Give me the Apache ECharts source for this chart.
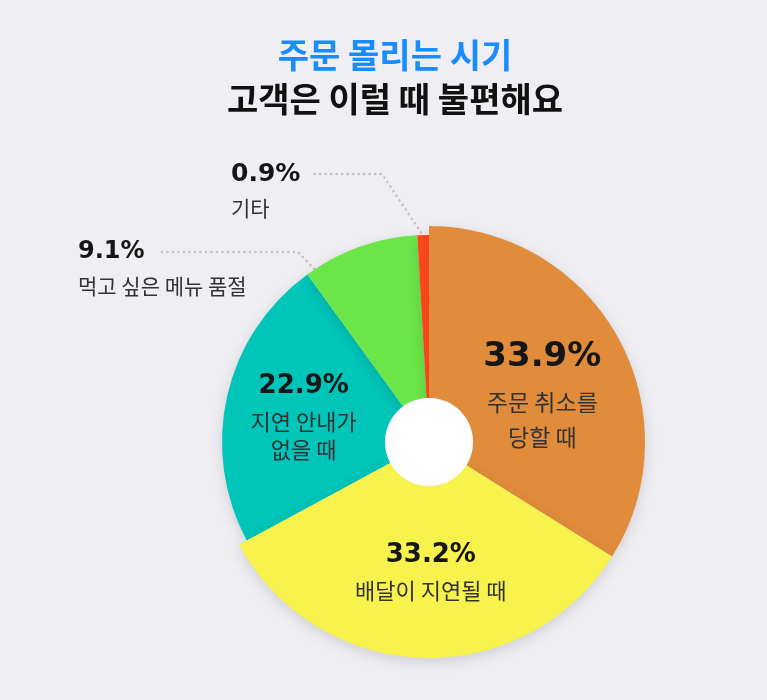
<!DOCTYPE html>
<html><head><meta charset="utf-8">
<script src="https://cdn.jsdelivr.net/npm/echarts@6/dist/echarts.min.js"></script>
<style>html,body{margin:0;padding:0;background:#EEEEF3;}#c{width:767px;height:700px;}</style>
</head><body><div id="c"></div>
<script>
const categories = ['주문 취소를\n당할 때', '배달이 지연될 때', '지연 안내가\n없을 때', '먹고 싶은 메뉴 품절', '기타'];
const values = [33.9, 33.2, 22.9, 9.1, 0.9];
const colors = ['#E18C3B', '#F8F34C', '#00C5B9', '#6CE549', '#FF4A1A'];
const bigSlices = [true, true, false, false, false];
const titleLine1 = '주문 몰리는 시기';
const titleLine2 = '고객은 이럴 때 불편해요';

const KR = '"Noto Sans CJK KR", "Noto Sans", sans-serif';
const NUM = '"DejaVu Sans", Lato, sans-serif';

const labelStyles = [
  {p: [34, 54], n: [23, 35]},
  {p: [26, 40], n: [22, 32]},
  {p: [26, 42], n: [22, 28]},
  {p: [24, 34], n: [21, 34]},
  {p: [25, 34], n: [21, 34]}
];

function fmt(params) {
  const lines = params.name.split('\n').map(s => '{n|' + s + '}');
  return '{p|' + params.value.toFixed(1) + '%}\n' + lines.join('\n');
}

function buildData(big) {
  return values.map((v, i) => {
    const visible = bigSlices[i] === big;
    const st = labelStyles[i];
    const outside = i >= 3;
    return {
      name: categories[i], value: v,
      itemStyle: visible ? {
        color: colors[i], shadowBlur: 14, shadowColor: 'rgba(0,0,0,0.13)', shadowOffsetY: 4
      } : {color: 'rgba(0,0,0,0)', shadowBlur: 0},
      label: visible ? {
        show: true,
        position: outside ? 'outside' : 'inside',
        formatter: fmt,
        align: outside ? 'left' : 'center',
        rich: {
          p: {fontFamily: NUM, fontWeight: 'bold', fontSize: st.p[0], lineHeight: st.p[1], color: '#161616', align: outside ? 'left' : 'center'},
          n: {fontFamily: KR, fontSize: st.n[0], lineHeight: st.n[1], color: '#333333', align: outside ? 'left' : 'center'}
        }
      } : {show: false},
      labelLine: visible && outside ? {
        show: true,
        lineStyle: {color: '#C2C2C6', width: 2.5, type: [0.1, 5.4], cap: 'round'}
      } : {show: false}
    };
  });
}

const chart = echarts.init(document.getElementById('c'), null, {renderer: 'canvas'});
chart.setOption({
  backgroundColor: '#EEEEF3',
  animation: false,
  title: [
    {text: titleLine1, left: 390, top: 31, textAlign: 'center',
     textStyle: {fontFamily: KR, fontWeight: 'bold', fontSize: 34, lineHeight: 38, color: '#1A8CFF'}},
    {text: titleLine2, left: 390, top: 75, textAlign: 'center',
     textStyle: {fontFamily: KR, fontWeight: 'bold', fontSize: 34, lineHeight: 38, color: '#111111'}}
  ],
  series: [
    {
      type: 'pie', center: [429, 442], radius: [44, 207], startAngle: 90,
      avoidLabelOverlap: false, silent: true, z: 2,
      data: buildData(false),
      labelLayout: function (p) {
        if (p.dataIndex === 2) return {dy: 1};
        if (p.dataIndex === 3) return {x: 78, y: 235, align: 'left', verticalAlign: 'top',
          labelLinePoints: [[318, 273], [298, 252], [160, 252]]};
        if (p.dataIndex === 4) return {x: 231, y: 157, align: 'left', verticalAlign: 'top',
          labelLinePoints: [[424, 237], [382, 174], [313, 174]]};
        return {};
      }
    },
    {
      type: 'pie', center: [429, 442], radius: [44, 216], startAngle: 90,
      avoidLabelOverlap: false, silent: true, z: 3,
      data: buildData(true),
      labelLayout: function (p) {
        if (p.dataIndex === 0) return {dx: -3, dy: 15};
        if (p.dataIndex === 1) return {dx: 6, dy: -4};
        return {};
      }
    },
    {
      type: 'pie', center: [429, 442], radius: [0, 44], silent: true, z: 4,
      label: {show: false}, labelLine: {show: false},
      data: [{value: 1, name: '', itemStyle: {color: '#FFFFFF'}}]
    }
  ]
});
</script>
</body></html>
